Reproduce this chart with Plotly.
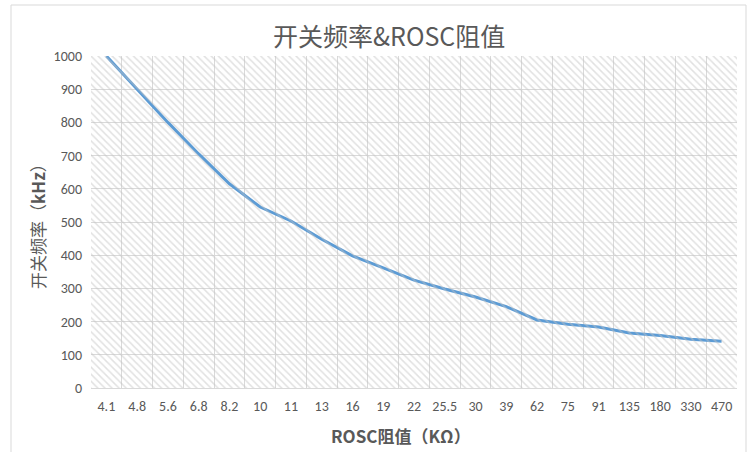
import plotly.graph_objects as go

# ROSC resistance (kΩ) categories and switching frequency (kHz)
rosc_kohm = ["4.1", "4.8", "5.6", "6.8", "8.2", "10", "11", "13", "16", "19", "22",
             "25.5", "30", "39", "62", "75", "91", "135", "180", "330", "470"]
freq_khz = [1000, 900, 800, 705, 615, 545, 503, 448, 398, 362, 325,
            298, 274, 245, 205, 192, 184, 166, 158, 147, 141]

y_ticks = list(range(0, 1001, 100))

W, H = 747, 452
L, R, T, B = 91, 10, 56, 64
pw, ph = W - L - R, H - T - B

def px_x(p):
    return (p - L) / pw

def px_y(p):
    return (H - B - p) / ph

text_color = "#595959"
grid_color = "#d9d9d9"
base_font = "Calibri, Carlito, 'Open Sans', sans-serif"
cjk_font = "'Microsoft YaHei', 'Noto Sans CJK SC', sans-serif"

fig = go.Figure()

# Hatched plot-area background on an overlay unit axis
fig.add_trace(go.Scatter(
    x=[0, 1, 1, 0, 0], y=[0, 0, 1, 1, 0],
    xaxis="x2", yaxis="y2",
    mode="none", fill="toself",
    fillcolor="rgba(0,0,0,0)",
    fillpattern=dict(shape="\\", fgcolor="#c4c4c4", bgcolor="rgba(255,255,255,0)",
                     size=5, solidity=0.3),
    hoverinfo="skip", showlegend=False,
))

fig.add_trace(go.Scatter(
    x=rosc_kohm, y=freq_khz,
    mode="lines",
    line=dict(color="#5B9BD5", width=3),
    showlegend=False,
))

fig.update_layout(
    width=W, height=H,
    margin=dict(l=L, r=R, t=T, b=B),
    paper_bgcolor="white",
    plot_bgcolor="white",
    font=dict(family=base_font, color=text_color, size=14),
    xaxis=dict(
        type="category",
        range=[-0.5, len(rosc_kohm) - 0.5],
        tickson="boundaries",
        tickangle=0,
        showgrid=True, gridcolor=grid_color, gridwidth=1,
        ticks="", showline=True, linecolor=grid_color,
        tickfont=dict(family=base_font, size=14, color=text_color),
        ticklabelstandoff=5,
        zeroline=False,
    ),
    yaxis=dict(
        range=[0, 1000],
        tickvals=y_ticks,
        showgrid=True, gridcolor=grid_color, gridwidth=1,
        ticks="", showline=False, zeroline=False,
        tickfont=dict(family=base_font, size=14, color=text_color),
        ticklabelstandoff=8,
    ),
    xaxis2=dict(overlaying="x", range=[0, 1], visible=False, fixedrange=True),
    yaxis2=dict(overlaying="y", range=[0, 1], visible=False, fixedrange=True),
    shapes=[
        # chart frame
        dict(type="rect", xref="paper", yref="paper",
             x0=px_x(11), x1=px_x(746), y0=px_y(470), y1=px_y(5),
             line=dict(color="#d9d9d9", width=1), fillcolor="rgba(0,0,0,0)",
             layer="below"),
    ],
    annotations=[
        dict(text="开关频率&ROSC阻值", xref="paper", yref="paper",
             x=px_x(389), y=px_y(35), xanchor="center", yanchor="middle",
             showarrow=False, font=dict(family=cjk_font, size=25, color=text_color)),
        dict(text="开关频率（<b>kHz</b>）", xref="paper", yref="paper",
             x=px_x(37), y=px_y(222), xanchor="center", yanchor="middle",
             textangle=-90, showarrow=False,
             font=dict(family=cjk_font, size=17, color=text_color)),
        dict(text="<b>ROSC阻值（KΩ）</b>", xref="paper", yref="paper",
             x=px_x(401), y=px_y(435), xanchor="center", yanchor="middle",
             showarrow=False, font=dict(family=cjk_font, size=17, color=text_color)),
    ],
)

fig.write_html("out.html")
